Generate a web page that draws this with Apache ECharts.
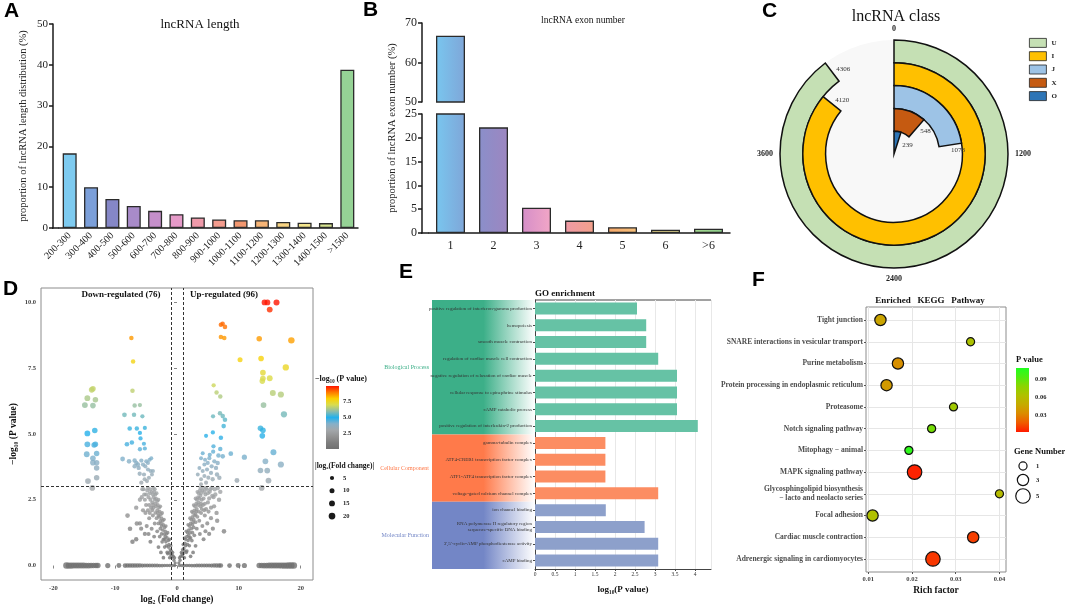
<!DOCTYPE html>
<html><head><meta charset="utf-8">
<script src="https://cdn.jsdelivr.net/npm/echarts@6/dist/echarts.min.js"></script>
<style>html,body{margin:0;padding:0;background:#fff}#c{width:1065px;height:606px}</style>
</head><body><div id="c"></div><script>
// ---------- Panel A: lncRNA length ----------
const lenCats = ['200-300','300-400','400-500','500-600','600-700','700-800','800-900','900-1000','1000-1100','1100-1200','1200-1300','1300-1400','1400-1500','>1500'];
const lenVals = [18.3,10.0,7.1,5.4,4.2,3.4,2.6,2.1,1.9,1.9,1.5,1.3,1.2,38.8];
const lenColors = ['#7ecbf0','#7b9fd9','#8587c7','#a88bc9','#c58fca','#e59ac8','#ef9aaa','#f39c8e','#f2976f','#f6b476','#f8d483','#f2e48c','#d6e38f','#95d295'];
// ---------- Panel B: exon number ----------
const exonCats = ['1','2','3','4','5','6','>6'];
const exonVals = [66.8,22.2,5.3,2.6,1.2,0.7,0.9];
const exonColors = [['#79c6ef','#7fa6d8'],['#8a8fca','#9d86c0'],['#d58ec8','#f2a6c6'],['#ef9aa6','#f3a08a'],['#f6a86a','#f6c07a'],['#f4e08c','#eee49a'],['#a4d890','#8ccd8a']];
// ---------- Panel C: lncRNA class ----------
const classNames = ['U','I','J','X','O'];
const classVals = [4306,4120,1078,548,239];
const classRings = ['O','X','J','I','U'];
const classColors = ['#c5e0b4','#ffc000','#9dc3e6','#c55a11','#2e75b6'];
const classTicks = [0,1200,2400,3600];
// ---------- Panel D: volcano [log2FC, -log10 P] ----------
const volcanoSig = [
[-13.6,6.72],[-13.8,6.68],[-14.5,6.36],[-13.2,6.30],[-14.9,6.10],[-13.6,6.08],
[-14.5,5.02],[-13.3,5.13],[-14.5,4.61],[-13.2,4.61],[-13.4,4.58],[-14.6,4.23],[-13.0,4.26],[-13.6,4.08],[-13.0,3.91],[-13.6,3.91],[-13.0,3.71],[-14.4,3.21],[-13.0,3.34],
[-7.38,8.65],[-7.1,7.76],[-7.2,6.64],[-6.85,6.08],[-6.0,6.10],[-8.5,5.73],[-6.95,5.73],[-5.6,5.67],[-7.65,5.21],[-6.5,5.21],[-5.2,5.23],[-6.0,5.04],[-5.9,4.83],[-8.1,4.61],[-7.3,4.68],[-5.35,4.63],[-6.0,4.42],[-5.2,4.45],[-8.8,4.05],
[-7.76,3.96],[-6.85,3.99],[-6.58,3.90],[-6.31,3.84],[-5.77,3.99],[-4.97,3.96],[-4.70,3.90],[-4.43,4.02],[-4.16,4.08],[-5.50,3.84],[-6.20,3.71],[-5.13,3.77],[-4.70,3.65],[-4.27,3.59],[-4.05,3.46],[-4.54,3.34],[-5.23,3.28],[-5.77,3.15],[-4.86,3.21],[-3.89,3.59],[-5.34,3.46],[-6.04,3.49],[-6.85,3.77],
[7.38,9.19],[7.1,9.15],[7.76,9.07],[7.1,8.69],[7.65,8.65],[5.93,6.85],[6.4,6.58],[7.0,6.43],[6.95,5.79],[7.4,5.68],[7.76,5.54],[5.83,5.67],[7.55,5.30],[5.8,5.06],[4.7,4.93],[7.1,4.86],[5.9,4.53],[7.0,4.43],[5.85,4.33],[4.16,4.27],[5.3,4.21],[6.7,4.18],[8.7,4.25],[7.4,4.15],
[3.89,4.08],[4.54,4.02],[5.23,4.08],[6.04,3.96],[6.58,3.90],[4.97,3.90],[4.43,3.84],[5.61,3.77],[6.31,3.71],[4.86,3.65],[4.16,3.59],[3.62,3.71],[5.50,3.52],[6.47,3.46],[6.85,3.34],[4.43,3.40],[3.89,3.28],[5.07,3.34],[3.36,3.46],[4.70,3.15],[5.77,3.28],[3.89,3.09],
[10.2,7.82],[10.9,4.12],[9.7,3.23],[14.15,10.0],[14.63,10.0],[16.1,10.0],[15.0,9.73],[13.3,8.62],[18.5,8.56],[13.6,7.87],[17.6,7.53],[13.9,7.33],[13.9,7.11],[15.0,7.12],[13.8,7.01],[15.5,6.56],[16.8,6.5],[14.0,6.10],[17.3,5.75],[13.5,5.22],[13.9,5.14],[13.8,4.93],[15.6,4.31],[14.3,3.96],[16.8,3.84],[13.5,3.61],[14.6,3.61],[14.8,3.23]
];
const volcanoGray = [
[-13.7,2.95],[13.7,2.95],
[-0.3,0.1],[-0.5,0.2],[-0.6,0.35],[-0.8,0.4],[-0.9,0.55],[-1.1,0.6],[-1.0,0.75],[-1.3,0.8],[-1.4,0.95],[-1.2,1.0],[-1.6,1.05],[-1.7,1.2],[-1.5,1.25],[-1.9,1.3],[-2.0,1.45],[-1.8,1.5],[-2.2,1.55],[-2.3,1.7],[-2.1,1.75],[-2.5,1.8],[-2.6,1.95],[-2.4,2.0],[-2.8,2.05],[-2.9,2.2],[-2.7,2.25],[-3.1,2.3],[-3.2,2.45],[-3.0,2.5],[-3.4,2.55],[-3.5,2.7],[-3.3,2.75],[-3.7,2.8],[-3.8,2.95],[-3.6,2.9],[-4.0,2.4],[-4.2,2.2],[-3.9,1.9],[-4.4,2.0],[-3.6,1.6],[-3.2,1.3],[-2.8,1.1],[-2.4,0.9],[-2.0,0.7],[-1.6,0.5],[-4.6,2.6],[-4.8,2.85],[-4.5,1.8],[-5.0,2.3],[-5.3,2.7],[-5.6,2.9],[-4.9,1.5],[-4.1,1.4],[-5.5,2.1],[-6.0,2.5],[-6.6,2.2],[-6.0,1.6],[-6.5,1.6],[-5.8,1.4],[-7.6,1.4],[-6.6,1.0],[-7.2,0.9],[-8.0,1.9],[-5.2,1.2],[-3.0,0.7],[-2.6,0.5],[-4.3,0.9],[-3.7,1.1],[-2.2,0.3],[-1.2,0.3],[-4.6,1.2],
[-0.4,0.3],[-0.7,0.5],[-0.9,0.3],[-1.2,0.5],[-1.4,0.7],[-1.5,0.45],[-1.8,0.9],[-1.9,1.1],[-2.1,1.2],[-2.3,1.35],[-2.5,1.5],[-2.6,1.6],[-2.7,1.7],[-2.9,1.85],[-3.1,2.0],[-3.2,2.1],[-3.4,2.25],[-3.5,2.35],[-3.6,2.5],[-3.8,2.6],[-3.9,2.7],[-4.1,2.8],[-4.3,2.9],[-4.0,2.1],[-4.3,2.5],[-4.5,2.3],[-4.7,2.1],[-5.0,2.7],[-5.2,2.5],[-5.4,2.9],[-3.3,1.8],[-3.0,1.6],[-2.7,1.4],[-3.5,2.0],[-3.9,2.3],[-2.2,1.0],[-1.0,0.4],[-1.7,0.75],[-2.5,1.2],[-3.0,1.9],[-4.4,2.75],[-4.7,2.95],[-2.0,1.0],[-3.8,2.2],[-5.1,2.0],[-5.7,2.6],
[0.3,0.1],[0.5,0.2],[0.6,0.35],[0.8,0.45],[0.9,0.6],[1.1,0.65],[1.0,0.8],[1.3,0.85],[1.4,1.0],[1.2,1.05],[1.6,1.1],[1.7,1.25],[1.5,1.3],[1.9,1.35],[2.0,1.5],[1.8,1.55],[2.2,1.6],[2.3,1.75],[2.1,1.8],[2.5,1.85],[2.6,2.0],[2.4,2.05],[2.8,2.1],[2.9,2.25],[2.7,2.3],[3.1,2.35],[3.2,2.5],[3.0,2.55],[3.4,2.6],[3.5,2.75],[3.3,2.8],[3.7,2.85],[3.8,2.95],[4.0,2.5],[4.2,2.3],[3.9,2.0],[4.4,2.1],[3.6,1.7],[3.2,1.4],[2.8,1.15],[2.4,0.95],[2.0,0.75],[1.6,0.55],[4.6,2.7],[4.8,2.9],[4.5,1.9],[5.0,2.4],[5.3,2.8],[5.6,2.95],[4.9,1.6],[4.1,1.5],[5.5,2.2],[6.0,2.25],[6.8,2.5],[5.5,1.8],[6.5,1.7],[5.8,1.4],[7.6,1.3],[6.4,2.0],[7.0,2.8],[5.2,1.2],[3.0,0.75],[2.6,0.5],[4.3,1.0],[3.7,1.2],[2.2,0.35],[1.2,0.3],[4.6,1.3],[6.2,2.7],[5.9,2.6],
[0.4,0.3],[0.7,0.5],[0.9,0.35],[1.2,0.55],[1.4,0.75],[1.5,0.5],[1.8,0.95],[1.9,1.15],[2.1,1.25],[2.3,1.4],[2.5,1.55],[2.6,1.65],[2.7,1.75],[2.9,1.9],[3.1,2.05],[3.2,2.15],[3.4,2.3],[3.5,2.4],[3.6,2.55],[3.8,2.65],[3.9,2.75],[4.1,2.85],[4.3,2.95],[4.0,2.15],[4.3,2.55],[4.5,2.35],[4.7,2.15],[5.0,2.75],[5.2,2.55],[5.4,2.9],[3.3,1.85],[3.0,1.65],[2.7,1.45],[3.5,2.05],[3.9,2.35],[2.2,1.05],[1.0,0.45],[1.7,0.8],[2.5,1.25],[3.0,1.95],[4.4,2.8],[4.7,2.95],[2.0,1.05],[3.8,2.25],[5.1,2.05],[5.7,2.65],[6.1,2.9],[6.6,2.95],
[-17.9,0],[-17.5,0],[-17.1,0],[-16.7,0],[-16.3,0],[-15.9,0],[-15.5,0],[-15.1,0],[-14.7,0],[-14.3,0],[-13.9,0],[-13.5,0],[-13.1,0],[-12.8,0],[-11.2,0],[-9.4,0],[-8.4,0],[-8.0,0],[-7.6,0],[-7.2,0],[-6.8,0],[-6.4,0],[-6.0,0],[-5.6,0],[-5.2,0],[-4.8,0],[-4.4,0],[-4.0,0],[-3.6,0],[-3.2,0],[-2.8,0],[-2.4,0],[-2.0,0],[-1.6,0],[-1.2,0],[-0.8,0],[-0.4,0],
[0.4,0],[0.8,0],[1.2,0],[1.6,0],[2.0,0],[2.4,0],[2.8,0],[3.2,0],[3.6,0],[4.0,0],[4.4,0],[4.8,0],[5.2,0],[5.6,0],[6.0,0],[6.4,0],[6.8,0],[7.1,0],[8.5,0],[9.9,0],[10.9,0],[13.3,0],[13.7,0],[14.1,0],[14.5,0],[14.9,0],[15.3,0],[15.7,0],[16.1,0],[16.5,0],[16.9,0],[17.3,0],[17.7,0],[18.1,0],[18.5,0],[18.9,0]
];
const volcanoXTicks = [-20,-10,0,10,20];
const volcanoYTicks = [0,2.5,5,7.5,10];
const volcanoColors = ['#707070','#7e7e7e','#939393','#a3a7aa','#86b0c8','#22b0ec','#90bca8','#d8dc50','#fcd000','#ff7a00','#ff1500'];
// ---------- Panel E: GO enrichment ----------
const goTerms = ['positive regulation of interferon-gamma production','hemopoiesis','smooth muscle contraction','regulation of cardiac muscle cell contraction','negative regulation of relaxation of cardiac muscle','cellular response to epinephrine stimulus','cAMP catabolic process','positive regulation of interleukin-2 production','gamma-tubulin complex','ATF4-CREB1 transcription factor complex','ATF1-ATF4 transcription factor complex','voltage-gated calcium channel complex','ion channel binding','RNA polymerase II regulatory region\nsequence-specific DNA binding',"3',5'-cyclic-AMP phosphodiesterase activity",'cAMP binding'];
const goVals = [2.55,2.78,2.78,3.08,3.55,3.55,3.55,4.07,1.76,1.76,1.76,3.08,1.77,2.74,3.08,3.08];
const goGroupOf = [0,0,0,0,0,0,0,0,1,1,1,1,2,2,2,2];
const goGroupNames = ['Biological Process','Cellular Component','Molecular Function'];
const goGroupCounts = [8,4,4];
const goBarColors = ['#66c2a5','#fc8d62','#8da0cb'];
const goBoxColors = ['#3caf88','#ff7a4a','#7386c6'];
// ---------- Panel F: KEGG ----------
const keggTerms = ['Tight junction','SNARE interactions in vesicular transport','Purine metabolism','Protein processing in endoplasmic reticulum','Proteasome','Notch signaling pathway','Mitophagy − animal','MAPK signaling pathway','Glycosphingolipid biosynthesis\n− lacto and neolacto series','Focal adhesion','Cardiac muscle contraction','Adrenergic signaling in cardiomyocytes'];
const keggRich = [0.0128,0.0334,0.0168,0.0142,0.0295,0.0245,0.0193,0.0206,0.0400,0.0110,0.0340,0.0248];
const keggP = [0.045,0.065,0.035,0.040,0.070,0.085,0.105,0.003,0.060,0.063,0.010,0.008];
const keggGenes = [3,1,3,3,1,1,1,5,1,3,3,5];
const keggXTicks = [0.01,0.02,0.03,0.04];
const keggColors = ['#ff1a00','#f05a00','#dc8a00','#c6aa00','#b0c000','#8cd400','#50ec10','#20ff20'];

const serif = '"Liberation Serif","Times New Roman",serif';
const sans = '"Liberation Sans",Arial,sans-serif';
const volSize = v => 3.3 + Math.abs(v) * 0.17;
const keggSize = g => 6.5 + g * 1.6;

const chart = echarts.init(document.getElementById('c'));

function grad(stops, horizontal) {
  return {type:'linear', x:0, y:0, x2: horizontal ? 1 : 0, y2: horizontal ? 0 : 1,
    colorStops: stops.map((c,i)=>({offset: i/(stops.length-1), color:c}))};
}

const blackAxis = {show:true, lineStyle:{color:'#1a1a1a', width:1.5}};
const g = [];
[['A',4,1],['B',363,0],['C',762,1],['D',3,279],['E',399,262],['F',752,270]].forEach(([t,x,y])=>{
  g.push({type:'text', style:{x, y, text:t, font:'bold 21px '+sans, fill:'#000', textVerticalAlign:'top'}});
});
const T = (text,x,y,font,fill,align)=>({type:'text', style:{x, y, text, font, fill: fill||'#111', textAlign: align||'center', textVerticalAlign:'middle'}});
g.push(T('lncRNA length',200,25,'13px '+serif));
g.push(T('lncRNA exon number',583,20,'9.5px '+serif));
g.push(T('lncRNA class',896,17,'16px '+serif));
g.push(T('GO enrichment',565,294,'bold 9px '+serif));
g.push(T('Enriched   KEGG   Pathway',930,301,'bold 9px '+serif));
g.push(T('Down-regulated (76)',121,295,'bold 9px '+serif));
g.push(T('Up-regulated (96)',224,295,'bold 9px '+serif));
g.push({type:'text', x:392, y:128, rotation:Math.PI/2, style:{x:0,y:0,text:'proportion of lncRNA exon number (%)', font:'10.5px '+serif, fill:'#222', textAlign:'center', textVerticalAlign:'middle'}});
g.push({type:'line', shape:{x1:52,y1:228,x2:59,y2:228}, style:{stroke:'#1a1a1a', lineWidth:1.5}});
g.push({type:'line', shape:{x1:421,y1:233,x2:429,y2:233}, style:{stroke:'#1a1a1a', lineWidth:1.5}});
g.push({type:'circle', z:-10, shape:{cx:894, cy:154, r:114}, style:{fill:'#f8f8f8'}});
{
  const top = 300, h = 269, band = h / goTerms.length;
  let y = top;
  goGroupNames.forEach((name, i)=>{
    const hh = goGroupCounts[i] * band;
    g.push({type:'rect', z:-10, shape:{x:432, y, width:103, height:hh},
      style:{fill: grad([goBoxColors[i], goBoxColors[i], 'rgba(255,255,255,0.95)'], true)}});
    g.push(T(name, 429, y + hh/2, '6px '+serif, goBoxColors[i], 'right'));
    y += hh;
  });
  g.push({type:'line', shape:{x1:535,y1:300,x2:711,y2:300}, style:{stroke:'#444', lineWidth:1}});
}
g.push(T('−log₁₀ (P value)',315,379,'bold 8px '+serif,'#111','left'));
g.push({type:'rect', shape:{x:326,y:386,width:13,height:63}, style:{fill: grad(volcanoColors.slice().reverse(), false)}});
[[7.5,'7.5'],[5,'5.0'],[2.5,'2.5']].forEach(([v,t])=>g.push(T(t,343,386 + (10-v)/10*63,'bold 6.5px '+serif,'#222','left')));
g.push(T('|log₂(Fold change)|',315,466,'bold 7.5px '+serif,'#111','left'));
[5,10,15,20].forEach((s,i)=>{
  const y = 478 + i*12.7;
  g.push({type:'circle', shape:{cx:332, cy:y, r:volSize(s)/2}, style:{fill:'#1a1a1a'}});
  g.push(T(String(s),343,y,'bold 6.5px '+serif,'#222','left'));
});
g.push(T('P value',1016,360,'bold 8.5px '+serif,'#111','left'));
g.push({type:'rect', shape:{x:1016,y:368,width:13,height:64}, style:{fill: grad(keggColors.slice().reverse(), false)}});
[0.09,0.06,0.03].forEach(v=>g.push(T(v.toFixed(2),1035,368 + (0.11 - v)/(0.11-0.001)*64,'bold 6.5px '+serif,'#222','left')));
g.push(T('Gene Number',1014,452,'bold 8.5px '+serif,'#111','left'));
[[1,466],[3,480],[5,496]].forEach(([n,y])=>{
  g.push({type:'circle', shape:{cx:1023, cy:y, r:keggSize(n)/2}, style:{fill:'#fff', stroke:'#111', lineWidth:1.2}});
  g.push(T(String(n),1036,y,'bold 6.5px '+serif,'#222','left'));
});

const option = {
  animation:false,
  backgroundColor:'#fff',
  textStyle:{fontFamily:serif},
  grid:[
    {left:59, top:24, width:299, height:204},
    {left:429, top:23, width:301, height:79},
    {left:429, top:114, width:301, height:119},
    {left:41, top:288, width:272, height:295, show:true, borderColor:'#8c8c8c', borderWidth:1},
    {left:535, top:300, width:176, height:269},
    {left:866, top:307, width:140, height:265, show:true, borderColor:'#8c8c8c', borderWidth:1}
  ],
  xAxis:[
    {gridIndex:0, type:'category', data:lenCats, axisLine:blackAxis,
      axisTick:{alignWithLabel:true, length:4, lineStyle:{width:1.5,color:'#1a1a1a'}},
      axisLabel:{rotate:45, fontSize:10, fontFamily:serif, color:'#222', margin:6, interval:0}},
    {gridIndex:1, type:'category', data:exonCats, show:false},
    {gridIndex:2, type:'category', data:exonCats, axisLine:blackAxis,
      axisTick:{alignWithLabel:true, length:4, lineStyle:{width:1.5,color:'#1a1a1a'}},
      axisLabel:{fontSize:12, fontFamily:serif, color:'#222', margin:7}},
    {gridIndex:3, type:'value', min:-22, max:22, axisLine:{show:false},
      axisTick:{show:true, customValues:volcanoXTicks, length:3, lineStyle:{color:'#888'}},
      axisLabel:{customValues:volcanoXTicks, fontSize:6.5, fontWeight:'bold', fontFamily:serif, color:'#444', margin:5},
      splitLine:{show:false},
      name:'log₂ (Fold change)', nameLocation:'middle', nameGap:15,
      nameTextStyle:{fontSize:9.5, fontWeight:'bold', fontFamily:serif, color:'#111'}},
    {gridIndex:4, type:'value', min:0, max:4.4, interval:0.5,
      axisLine:{show:true, lineStyle:{color:'#444'}}, axisTick:{show:true, length:2, lineStyle:{color:'#444'}},
      axisLabel:{fontSize:5.5, fontFamily:serif, color:'#333', margin:3, showMaxLabel:false},
      splitLine:{show:true, lineStyle:{color:'#e8e8e8'}},
      name:'log₁₀(P value)', nameLocation:'middle', nameGap:16,
      nameTextStyle:{fontSize:9, fontWeight:'bold', fontFamily:serif, color:'#111'}},
    {gridIndex:5, type:'value', min:0.0095, max:0.0415, axisLine:{show:false},
      axisTick:{show:true, customValues:keggXTicks, length:2, lineStyle:{color:'#555'}},
      axisLabel:{customValues:keggXTicks, formatter:v=>v.toFixed(2), fontSize:6.5, fontWeight:'bold', fontFamily:serif, color:'#444', margin:4},
      splitLine:{show:true, lineStyle:{color:'#e6e6e6'}},
      name:'Rich factor', nameLocation:'middle', nameGap:14,
      nameTextStyle:{fontSize:9.5, fontWeight:'bold', fontFamily:serif, color:'#111'}}
  ],
  yAxis:[
    {gridIndex:0, type:'value', min:0, max:50, interval:10, offset:6, axisLine:blackAxis,
      axisTick:{show:true, length:4, lineStyle:{width:1.5,color:'#1a1a1a'}},
      axisLabel:{fontSize:11, fontFamily:serif, color:'#222', margin:5}, splitLine:{show:false},
      name:'proportion of lncRNA length distribution (%)', nameLocation:'middle', nameGap:24,
      nameTextStyle:{fontSize:10.5, fontFamily:serif, color:'#222'}},
    {gridIndex:1, type:'value', min:50, max:70, interval:10, offset:7, axisLine:blackAxis,
      axisTick:{show:true, length:4, lineStyle:{width:1.5,color:'#1a1a1a'}},
      axisLabel:{fontSize:12, fontFamily:serif, color:'#222', margin:5}, splitLine:{show:false}},
    {gridIndex:2, type:'value', min:0, max:25, interval:5, offset:7, axisLine:blackAxis,
      axisTick:{show:true, length:4, lineStyle:{width:1.5,color:'#1a1a1a'}},
      axisLabel:{fontSize:12, fontFamily:serif, color:'#222', margin:5}, splitLine:{show:false}},
    {gridIndex:3, type:'value', min:-0.55, max:10.55, axisLine:{show:false},
      axisTick:{show:true, customValues:volcanoYTicks, length:3, lineStyle:{color:'#888'}},
      axisLabel:{customValues:volcanoYTicks, formatter:v=>v.toFixed(1), fontSize:6.5, fontWeight:'bold', fontFamily:serif, color:'#444', margin:5},
      splitLine:{show:false},
      name:'−log₁₀ (P value)', nameLocation:'middle', nameGap:22,
      nameTextStyle:{fontSize:9.5, fontWeight:'bold', fontFamily:serif, color:'#111'}},
    {gridIndex:4, type:'category', inverse:true, data:goTerms,
      axisLine:{show:true, lineStyle:{color:'#444'}}, axisTick:{show:true, length:2, alignWithLabel:true, lineStyle:{color:'#444'}},
      axisLabel:{fontSize:5, fontFamily:serif, color:'#333', margin:3, lineHeight:6, interval:0}},
    {gridIndex:5, type:'value', min:0.4, max:12.6, inverse:true, axisLine:{show:false},
      axisTick:{show:true, customValues:[1,2,3,4,5,6,7,8,9,10,11,12], length:2, lineStyle:{color:'#555'}},
      axisLabel:{customValues:[1,2,3,4,5,6,7,8,9,10,11,12], formatter:v=>keggTerms[Math.round(v)-1]||'', fontSize:7.5, fontWeight:'bold', fontFamily:serif, color:'#4d4d4d', margin:3, lineHeight:9, align:'right'},
      splitLine:{show:true, lineStyle:{color:'#e6e6e6'}}}
  ],
  polar:{center:[894,154], radius:[0,114]},
  angleAxis:{type:'value', min:0, max:4800, interval:1200, startAngle:90, clockwise:true,
    axisLine:{show:false}, axisTick:{show:false}, splitLine:{show:false},
    axisLabel:{formatter:v=> classTicks.includes(v) ? String(v) : '', fontSize:8, fontWeight:'bold', fontFamily:serif, color:'#222', margin:7}},
  radiusAxis:{type:'category', data:classRings, axisLine:{show:false}, axisTick:{show:false}, axisLabel:{show:false}, splitLine:{show:false}},
  legend:{data:classNames, orient:'vertical', left:1024, top:33, itemWidth:17, itemHeight:9, itemGap:3.5, icon:'rect',
    itemStyle:{borderColor:'#222', borderWidth:0.8},
    textStyle:{fontSize:7, fontWeight:'bold', fontFamily:serif, color:'#222'}},
  visualMap:[
    {show:false, seriesIndex:[8,9], dimension:1, min:0, max:10, inRange:{color:volcanoColors}},
    {show:false, seriesIndex:11, dimension:2, min:0.001, max:0.11, inRange:{color:keggColors}}
  ],
  series:[
    {type:'bar', xAxisIndex:0, yAxisIndex:0, barWidth:14,
      data: lenVals.map((v,i)=>({value:v, itemStyle:{color:lenColors[i]}})),
      itemStyle:{borderColor:'#2a2a2a', borderWidth:1.3}},
    {type:'bar', xAxisIndex:1, yAxisIndex:1, barWidth:29, clip:true,
      data: exonVals.map((v,i)=>({value: v >= 50 ? v : '-', itemStyle:{color:grad(exonColors[i], true)}})),
      itemStyle:{borderColor:'#2a2a2a', borderWidth:1.3}},
    {type:'bar', xAxisIndex:2, yAxisIndex:2, barWidth:29, clip:true,
      data: exonVals.map((v,i)=>({value:v, itemStyle:{color:grad(exonColors[i], true)}})),
      itemStyle:{borderColor:'#2a2a2a', borderWidth:1.3}},
    ...classNames.map((n,k)=>({
      type:'bar', coordinateSystem:'polar', name:n,
      data: classRings.map(r => r === n ? classVals[k] : null),
      barGap:'-100%', barCategoryGap:'0%',
      itemStyle:{color:classColors[k], borderColor:'#111', borderWidth:1.5},
      label:{show:true, position:'end', rotate:0, formatter:'{c}', fontSize:7, fontFamily:serif, color:'#333'}
    })),
    {type:'scatter', xAxisIndex:3, yAxisIndex:3, data:volcanoGray, symbolSize:v=>volSize(v[0]),
      markLine:{silent:true, symbol:['none','none'], label:{show:false},
        lineStyle:{type:[3,2], color:'#333', width:1},
        data:[{xAxis:-1},{xAxis:1},{yAxis:3}]}},
    {type:'scatter', xAxisIndex:3, yAxisIndex:3, data:volcanoSig, symbolSize:v=>volSize(v[0])},
    {type:'bar', xAxisIndex:4, yAxisIndex:4, barWidth:12,
      data: goVals.map((v,i)=>({value:v, itemStyle:{color:goBarColors[goGroupOf[i]]}}))},
    {type:'scatter', xAxisIndex:5, yAxisIndex:5,
      data: keggRich.map((r,i)=>[r, i+1, keggP[i], keggGenes[i]]),
      symbolSize: v => keggSize(v[3]),
      itemStyle:{borderColor:'#111', borderWidth:1.2, opacity:1}}
  ],
  graphic:{elements:g}
};
chart.setOption(option);
</script></body></html>
